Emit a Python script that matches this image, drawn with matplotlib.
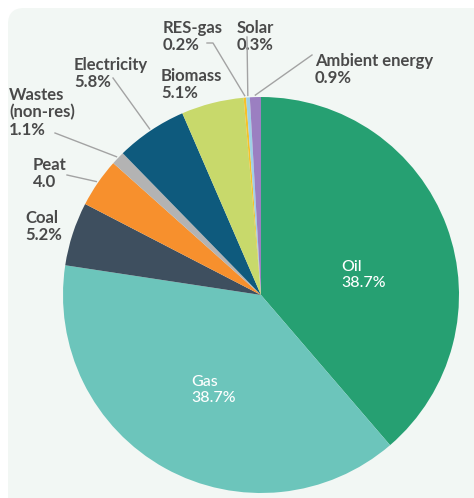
import numpy as np
import matplotlib
matplotlib.use('Agg')
import matplotlib.pyplot as plt
from matplotlib.patches import FancyBboxPatch

# energy mix, clockwise from 12 o'clock
labels = ['Oil', 'Gas', 'Coal', 'Peat', 'Wastes\n(non-res)', 'Electricity',
          'Biomass', 'RES-gas', 'Solar', 'Ambient energy']
values = [38.7, 38.7, 5.2, 4.0, 1.1, 5.8, 5.1, 0.2, 0.3, 0.9]
value_text = ['38.7%', '38.7%', '5.2%', '4.0', '1.1%', '5.8%', '5.1%',
              '0.2%', '0.3%', '0.9%']
colors = ['#26a072', '#6cc5bb', '#3e4f5f', '#f7902d', '#b3b3b3', '#0e5a7d',
          '#c8d96b', '#f6c12a', '#9fd0e6', '#9b7fc1']

plt.rcParams['font.family'] = ['Lato', 'DejaVu Sans']

W, H = 474, 498
fig = plt.figure(figsize=(W / 100, H / 100), dpi=100)
fig.patch.set_facecolor('white')
ax = fig.add_axes([0, 0, 1, 1])

def py(y):  # pixel row -> data y
    return H - y

# light panel with rounded top-left corner
ax.add_patch(FancyBboxPatch((8, -30), W + 30, py(8) + 30,
                            boxstyle='round,pad=0,rounding_size=16',
                            fc='#f2f7f4', ec='none', zorder=0))

cx, cy, R = 261, py(295), 198
wedges, _ = ax.pie(values, colors=colors, startangle=90, counterclock=False,
                   center=(cx, cy), radius=R, wedgeprops=dict(linewidth=0))
ax.set_xlim(0, W)
ax.set_ylim(0, H)
ax.axis('off')

TXT = '#4a4a4a'

# inner labels (Oil, Gas): anchored at last-line baseline
inner = {0: (341, 287), 1: (191, 402)}
for i, (x, yb) in inner.items():
    ax.text(x, py(yb), f'{labels[i]}\n{value_text[i]}', color='white',
            fontsize=11.5, fontweight='medium', ha='left', va='baseline',
            linespacing=1.2)

# outer labels: text anchor (last baseline) and leader start points
outer = {
    2: ((25, 240), None),
    3: ((33, 187), [(67, 175)]),
    4: ((9, 135), [(55, 133)]),
    5: ((74, 87), [(113, 78)]),
    6: ((161, 98), None),
    7: ((163, 50), [(207, 43), (213, 43)]),
    8: ((237, 50), [(247, 37)]),
    9: ((315, 83), [(312, 55)]),
}
for i, ((x, yb), lead) in outer.items():
    ax.text(x, py(yb), f'{labels[i]}\n{value_text[i]}', color=TXT,
            fontsize=12, fontweight='bold', ha='left', va='baseline',
            linespacing=1.1)
    if lead:
        # leader ends on the wedge rim at its mid-angle
        w = wedges[i]
        mid = np.deg2rad((w.theta1 + w.theta2) / 2)
        ex = cx + 1.01 * R * np.cos(mid)
        ey = cy + 1.01 * R * np.sin(mid)
        xs = [p[0] for p in lead] + [ex]
        ys = [py(p[1]) for p in lead] + [ey]
        ax.plot(xs, ys, color='#a3a3a3', lw=1.0, zorder=3)

fig.savefig('out.png', dpi=100)
